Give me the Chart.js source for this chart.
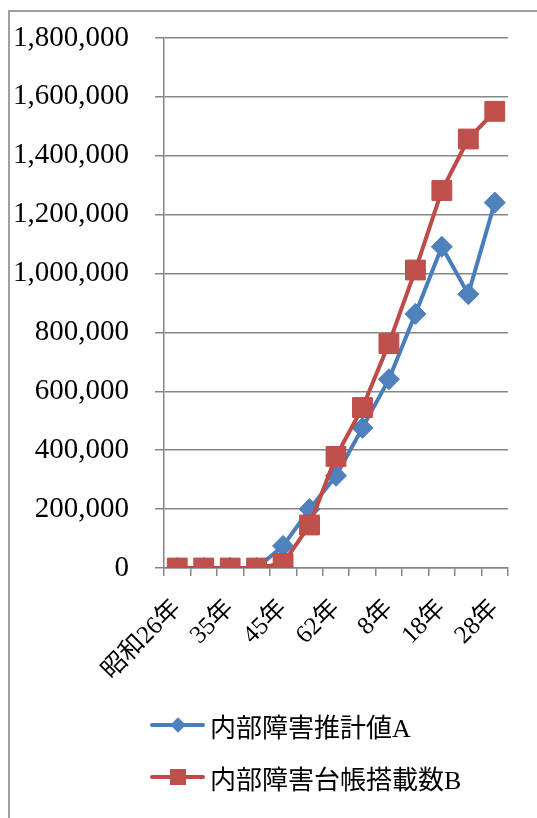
<!DOCTYPE html>
<html>
<head>
<meta charset="utf-8">
<script src="https://cdn.jsdelivr.net/npm/chart.js@4"></script>
<style>
  body { margin: 0; background: #fff; }
  #wrap { position: relative; width: 537px; height: 818px; overflow: hidden; }
  #frame { position: absolute; left: 8px; top: 10px; width: 700px; height: 1000px;
           border-left: 2px solid #a0a0a0; border-top: 2px solid #a0a0a0; }
  #chart { position: absolute; left: 0; top: 0; }
  #legend { position: absolute; left: 150px; top: 710px;
            font-family: "Liberation Serif", "Noto Sans CJK JP", serif; font-size: 26px; color: #000; }
  .item { display: flex; align-items: center; height: 30px; margin-bottom: 22px; }
  .mark { position: relative; width: 55px; height: 4px; border-radius: 2px; margin-right: 5px; }
  .mark span { position: absolute; left: 50%; top: 50%; }
</style>
</head>
<body>
<div id="wrap">
  <div id="frame"></div>
  <canvas id="chart" width="537" height="818"></canvas>
  <div id="legend"></div>
</div>
<script>
// survey years (昭和 then 平成)
const years = ['昭和26年', '30年', '35年', '40年', '45年', '55年', '62年', '平成3年', '8年', '13年', '18年', '23年', '28年'];

// 内部障害推計値A
const estimateA = [0, 0, 0, 0, 75000, 200000, 313000, 476000, 641000, 863000, 1091000, 930000, 1241000];

// 内部障害台帳搭載数B
const registeredB = [0, 0, 0, 0, 15000, 146000, 379000, 545000, 762000, 1012000, 1282000, 1457000, 1551000];

const yTicks = [0, 200000, 400000, 600000, 800000, 1000000, 1200000, 1400000, 1600000, 1800000];

const gridColor = '#868686';
const serif = '"Liberation Serif", "Noto Sans CJK JP", serif';

const myChart = new Chart(document.getElementById('chart'), {
  type: 'line',
  data: {
    labels: years,
    datasets: [{
      label: '内部障害推計値A',
      data: estimateA,
      borderColor: '#4a7ebb',
      backgroundColor: '#4f81bd',
      borderWidth: 4,
      pointStyle: 'rectRot',
      pointRadius: 10.5,
      pointBorderWidth: 1,
      pointBorderColor: '#4a7ebb',
      order: 1
    }, {
      label: '内部障害台帳搭載数B',
      data: registeredB,
      borderColor: '#be4b48',
      backgroundColor: '#c0504d',
      borderWidth: 4,
      pointStyle: 'rect',
      pointRadius: 14,
      pointBorderWidth: 1,
      pointBorderColor: '#be4b48',
      order: 0
    }]
  },
  options: {
    responsive: false,
    animation: false,
    layout: { padding: { top: 38, right: 29, left: 0, bottom: 0 } },
    plugins: {
      legend: { display: false },
      tooltip: { enabled: false }
    },
    scales: {
      x: {
        offset: true,
        grid: { offset: true, drawOnChartArea: false, tickLength: 8, color: gridColor, lineWidth: 1.5 },
        border: { color: gridColor, width: 1.5 },
        ticks: {
          autoSkip: false,
          minRotation: 45,
          maxRotation: 45,
          padding: 18,
          color: '#000',
          font: { family: serif, size: 25 },
          callback: function(value, index) {
            return index % 2 === 0 ? years[index] : '';
          }
        },
        afterFit: function(scale) {
          scale.height = 250;
          scale.paddingLeft = 0;
          scale.paddingRight = 0;
        }
      },
      y: {
        min: 0,
        max: 1800000,
        afterBuildTicks: function(scale) {
          scale.ticks = yTicks.map(v => ({ value: v }));
        },
        grid: { tickLength: 9, color: gridColor, lineWidth: 1.5 },
        border: { color: gridColor, width: 1.5 },
        ticks: {
          padding: 26,
          color: '#000',
          font: { family: serif, size: 29 },
          callback: function(value) { return value.toLocaleString('en-US'); }
        },
        afterFit: function(scale) {
          scale.width = 164;
          scale.paddingTop = 0;
          scale.paddingBottom = 0;
        }
      }
    }
  }
});

// html legend: line with the marker in the middle
function buildLegend(chart) {
  let box = document.getElementById('legend');
  chart.data.datasets.forEach(ds => {
    let item = document.createElement('div');
    item.className = 'item';
    let mark = document.createElement('div');
    mark.className = 'mark';
    mark.style.background = ds.borderColor;
    let dot = document.createElement('span');
    dot.style.background = ds.backgroundColor;
    if (ds.pointStyle === 'rectRot') {
      dot.style.width = '11px';
      dot.style.height = '11px';
      dot.style.transform = 'translate(-50%, -50%) rotate(45deg)';
    } else {
      dot.style.width = '16px';
      dot.style.height = '16px';
      dot.style.transform = 'translate(-50%, -50%)';
    }
    mark.appendChild(dot);
    let text = document.createElement('span');
    text.textContent = ds.label;
    item.appendChild(mark);
    item.appendChild(text);
    box.appendChild(item);
  });
}

buildLegend(myChart);
</script>
</body>
</html>
